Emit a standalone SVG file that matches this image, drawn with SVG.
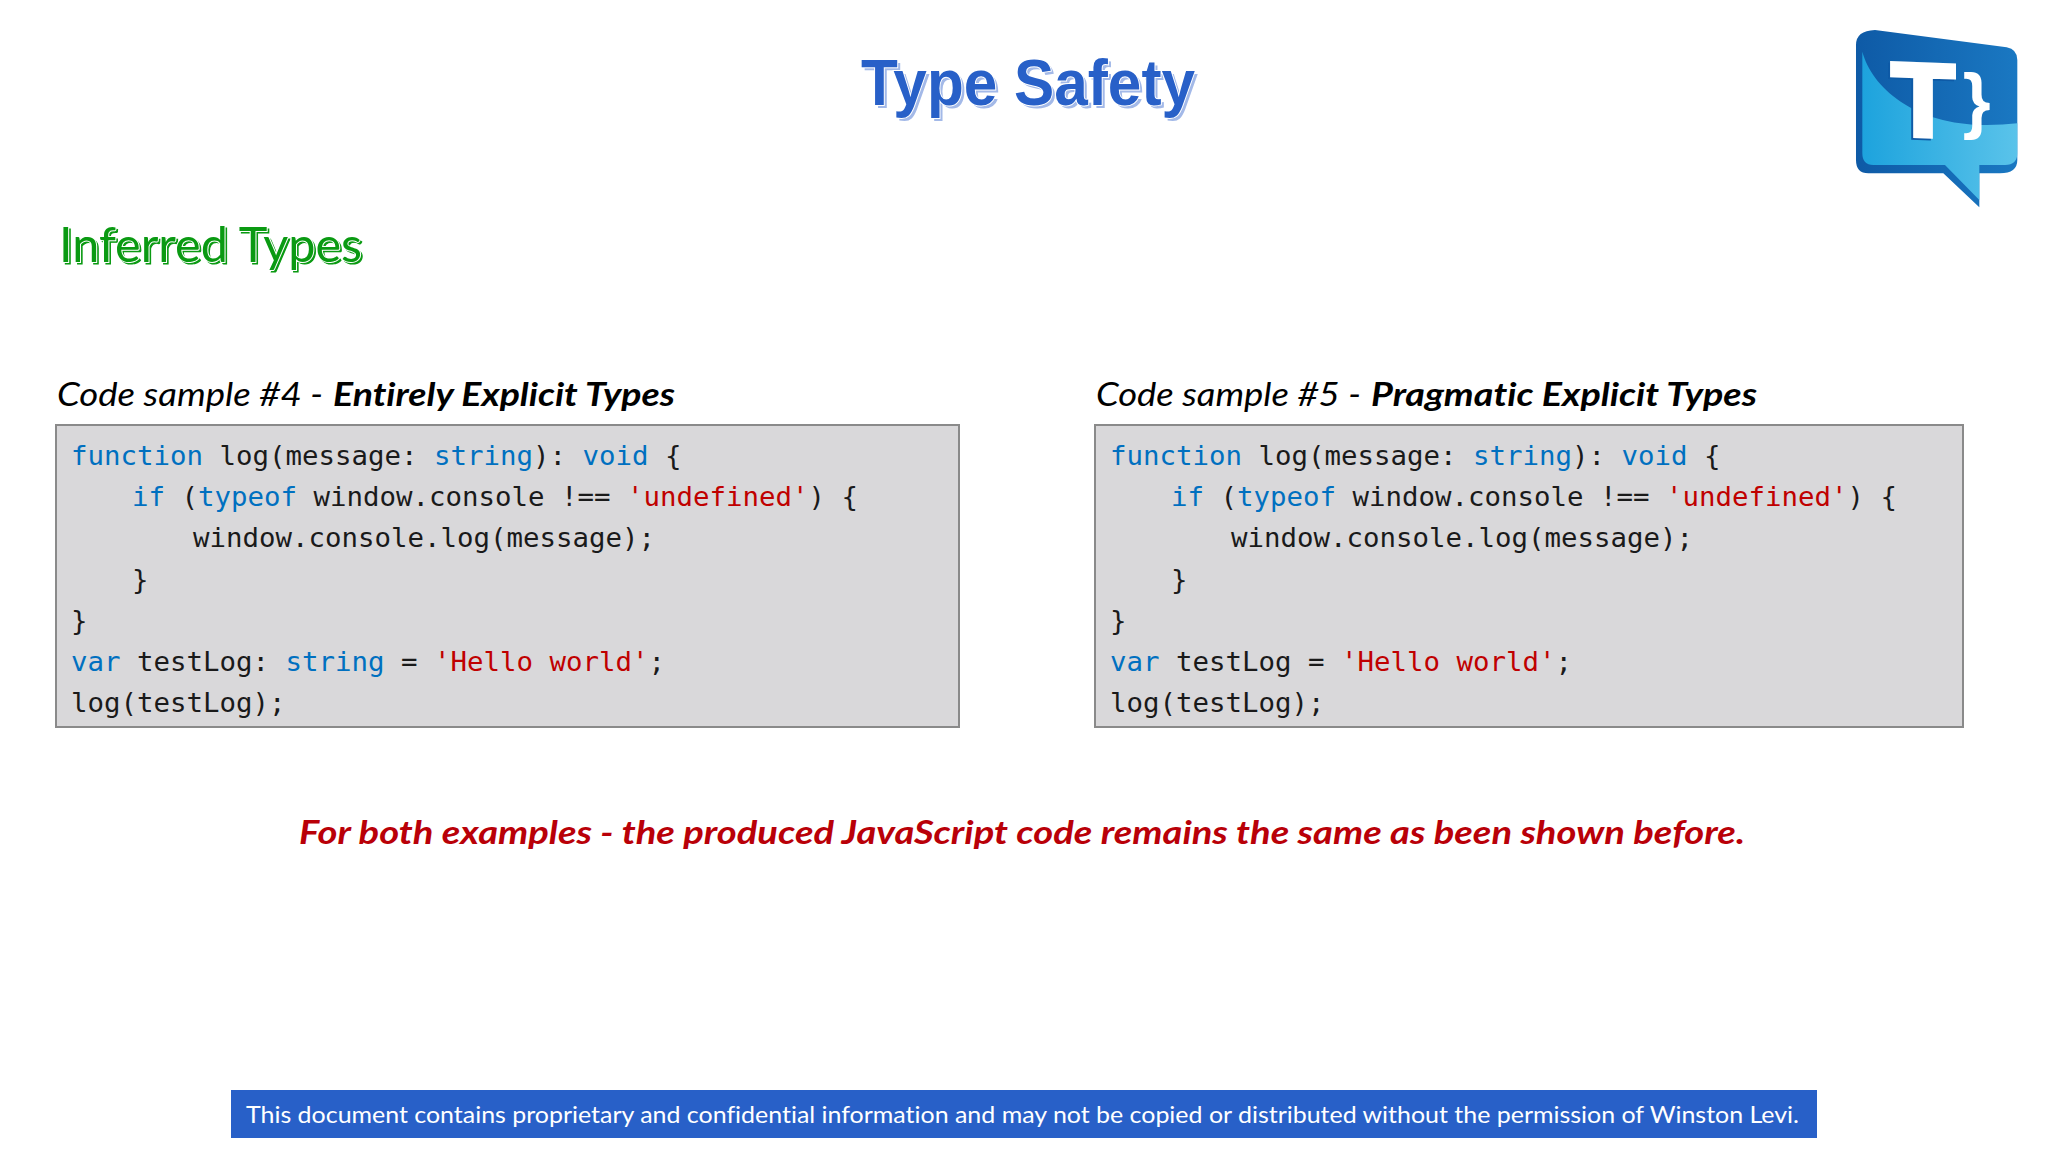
<svg xmlns="http://www.w3.org/2000/svg" width="2048" height="1152" viewBox="0 0 2048 1152">
<style>
text{font-variant-ligatures:none}
.title{font-family:"Liberation Sans",Arial,sans-serif;font-weight:700;font-size:64px}
.h2{font-family:Lato,"Open Sans",sans-serif;font-size:48px;font-weight:400}
.cap{font-family:Lato,"Open Sans",sans-serif;font-size:33px;font-style:italic;fill:#000}
.b{font-weight:700}
.box{fill:#d9d8da;stroke:#8a8a8a;stroke-width:2}
.code{font-family:"DejaVu Sans Mono","Liberation Mono",monospace;font-size:27.42px;fill:#1a1a1a;white-space:pre}
.k{fill:#0070c0}.s{fill:#c00000}
.note{font-family:Lato,"Open Sans",sans-serif;font-weight:700;font-style:italic;font-size:33px;fill:#b90008}
.foot{font-family:Lato,"Open Sans",sans-serif;font-size:23px;fill:#fff}
.lg{font-family:"Liberation Sans",sans-serif;font-weight:700}
</style>
<defs>
<linearGradient id="dk" x1="0" x2="1" y1="0" y2="0"><stop offset="0" stop-color="#0e5aa6"/><stop offset="1" stop-color="#1a78c2"/></linearGradient>
<linearGradient id="lt" x1="0" x2="1" y1="0" y2="0"><stop offset="0" stop-color="#1da3dd"/><stop offset="1" stop-color="#5ac3ea"/></linearGradient>
</defs>
<rect width="2048" height="1152" fill="#fff"/>
<g id="title">
<text class="title" x="864" y="108" fill="#a3b9e8" textLength="334" lengthAdjust="spacingAndGlyphs">Type Safety</text>
<text class="title" x="861" y="105" fill="#2860c8" stroke="#fff" stroke-width="2" paint-order="stroke" textLength="334" lengthAdjust="spacingAndGlyphs">Type Safety</text>
</g>
<g id="logo" transform="translate(1830 10) scale(.3333)">
<path fill="url(#dk)" d="M135 60L530 112Q562 118 562 150V450Q562 490 510 490H448V592L340 490H115Q78 490 78 450V105Q78 62 135 60Z"/>
<path fill="url(#lt)" d="M97 125C125 230 250 345 470 345Q520 345 562 340V430Q562 465 525 465H448V570L345 465H130Q97 465 97 430Z"/>
<text class="lg" transform="translate(178 380) skewY(2)" font-size="312" fill="#0e5aa6" stroke="#0e5aa6" stroke-width="14">T</text>
<text class="lg" transform="translate(184 375) skewY(2)" font-size="312" fill="#fff" stroke="#fff" stroke-width="14">T</text>
<text class="lg" transform="translate(398 345)" font-size="215" fill="#fff">}</text>
</g>
<g id="subtitle">
<text class="h2" x="61" y="264" fill="#0a9a12" stroke="#0a9a12" stroke-width="1.2" textLength="303" lengthAdjust="spacingAndGlyphs">Inferred Types</text>
<text class="h2" x="59" y="262" fill="#0a9a12" stroke="#fff" stroke-width="2" paint-order="stroke" textLength="303" lengthAdjust="spacingAndGlyphs">Inferred Types</text>
</g>
<g id="sample4">
<text class="cap" x="57" y="406" textLength="266" lengthAdjust="spacingAndGlyphs">Code sample #4 -</text>
<text class="cap b" x="333" y="406" textLength="342" lengthAdjust="spacingAndGlyphs">Entirely Explicit Types</text>
<rect class="box" x="56" y="425" width="903" height="302"/>
<text class="code" x="71" y="464.7"><tspan class="k">function</tspan> log(message: <tspan class="k">string</tspan>): <tspan class="k">void</tspan> {</text>
<text class="code" x="132" y="505.7"><tspan class="k">if</tspan> (<tspan class="k">typeof</tspan> window.console !== <tspan class="s">'undefined'</tspan>) {</text>
<text class="code" x="193" y="546.7">window.console.log(message);</text>
<text class="code" x="132" y="588.7">}</text>
<text class="code" x="71" y="629.7">}</text>
<text class="code" x="71" y="670.7"><tspan class="k">var</tspan> testLog: <tspan class="k">string</tspan> = <tspan class="s">'Hello world'</tspan>;</text>
<text class="code" x="71" y="711.7">log(testLog);</text>
</g>
<g id="sample5">
<text class="cap" x="1096" y="406" textLength="265" lengthAdjust="spacingAndGlyphs">Code sample #5 -</text>
<text class="cap b" x="1371" y="406" textLength="386" lengthAdjust="spacingAndGlyphs">Pragmatic Explicit Types</text>
<rect class="box" x="1095" y="425" width="868" height="302"/>
<text class="code" x="1110" y="464.7"><tspan class="k">function</tspan> log(message: <tspan class="k">string</tspan>): <tspan class="k">void</tspan> {</text>
<text class="code" x="1171" y="505.7"><tspan class="k">if</tspan> (<tspan class="k">typeof</tspan> window.console !== <tspan class="s">'undefined'</tspan>) {</text>
<text class="code" x="1231" y="546.7">window.console.log(message);</text>
<text class="code" x="1171" y="588.7">}</text>
<text class="code" x="1110" y="629.7">}</text>
<text class="code" x="1110" y="670.7"><tspan class="k">var</tspan> testLog = <tspan class="s">'Hello world'</tspan>;</text>
<text class="code" x="1110" y="711.7">log(testLog);</text>
</g>
<text id="note" class="note" x="299" y="844" textLength="1446" lengthAdjust="spacingAndGlyphs">For both examples - the produced JavaScript code remains the same as been shown before.</text>
<g id="footer">
<rect x="231" y="1090" width="1586" height="48" fill="#2860c8"/>
<text class="foot" x="246" y="1123" textLength="1553" lengthAdjust="spacingAndGlyphs">This document contains proprietary and confidential information and may not be copied or distributed without the permission of Winston Levi.</text>
</g>
</svg>
